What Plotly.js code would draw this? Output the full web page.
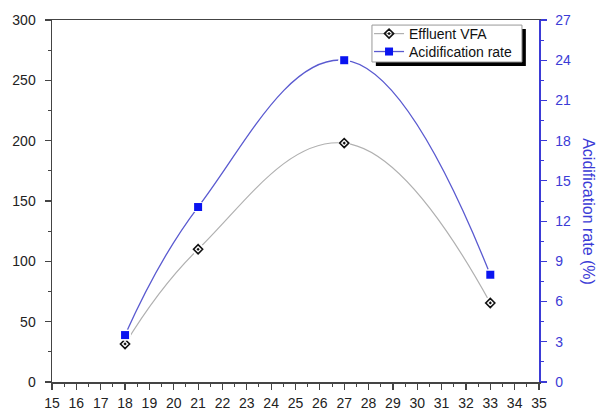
<!DOCTYPE html>
<html><head><meta charset="utf-8">
<script src="https://cdn.plot.ly/plotly-3.0.1.min.js"></script>
<style>html,body{margin:0;padding:0;background:#fff}#chart{width:602px;height:410px}</style>
</head><body><div id="chart"></div>
<script>
const temperature = [18, 21, 27, 33];
const effluentVFA = [31.5, 110, 198, 65.5];
const acidificationRate = [3.5, 13.05, 24.0, 8.0];
const seriesNames = ["Effluent VFA", "Acidification rate"];
const rightAxisTitle = "Acidification rate (%)";

const fam = "Liberation Sans, Arial, sans-serif";
const blue = "#3b3bd6";
const vfaLine = {shape: "spline", smoothing: 1.2, color: "#b0b0b0", width: 1.2};
const accLine = {shape: "spline", smoothing: 1.2, color: "#5a5ad0", width: 1.3};
const vfaMarker = {symbol: "diamond-open-dot", size: 7, color: "#111", line: {width: 1.6, color: "#111"}};
const accMarker = {symbol: "square", size: 8, color: "#0a14f0", line: {width: 0}};
const mask = {symbol: "circle", size: 12, color: "#fff", line: {width: 0}};

const traces = [
  {x: temperature, y: effluentVFA, name: seriesNames[0], type: "scatter", mode: "lines+markers",
   line: vfaLine, marker: vfaMarker, yaxis: "y", legend: "legend"},
  {x: temperature, y: acidificationRate, name: seriesNames[1], type: "scatter", mode: "lines+markers",
   line: accLine, marker: accMarker, yaxis: "y2", legend: "legend2"},
  {x: temperature, y: effluentVFA, type: "scatter", mode: "markers", marker: mask, showlegend: false, yaxis: "y", hoverinfo: "skip"},
  {x: temperature, y: acidificationRate, type: "scatter", mode: "markers", marker: mask, showlegend: false, yaxis: "y2", hoverinfo: "skip"},
  {x: temperature, y: effluentVFA, type: "scatter", mode: "markers", marker: vfaMarker, showlegend: false, yaxis: "y"},
  {x: temperature, y: acidificationRate, type: "scatter", mode: "markers", marker: accMarker, showlegend: false, yaxis: "y2"}
];
const tf = {family: fam, size: 14, color: "#222"};
const legendBase = {xanchor: "left", yanchor: "top", bgcolor: "rgba(0,0,0,0)", borderwidth: 0,
                    font: {family: fam, size: 14, color: "#111"}, itemwidth: 30};
const layout = {
  width: 602, height: 410,
  margin: {l: 52, r: 63, t: 20, b: 28},
  paper_bgcolor: "#fff", plot_bgcolor: "#fff",
  font: {family: fam, size: 14, color: "#222"},
  showlegend: true,
  legend: Object.assign({}, legendBase, {x: 0.651, y: 1.0055}),
  legend2: Object.assign({}, legendBase, {x: 0.651, y: 0.956}),
  xaxis: {range: [15, 35], dtick: 1, tick0: 15, showgrid: false, zeroline: false,
          showline: true, linecolor: "#444", linewidth: 1.5, mirror: true,
          ticks: "outside", ticklen: 6, tickwidth: 1.2, tickcolor: "#444", ticklabelstandoff: 2,
          minor: {dtick: 0.5, ticks: "outside", ticklen: 3, tickcolor: "#444", tickwidth: 1},
          tickfont: tf},
  yaxis: {range: [0, 300], dtick: 50, showgrid: false, zeroline: false,
          showline: true, linecolor: "#444", linewidth: 1.5,
          ticks: "outside", ticklen: 6, tickwidth: 1.2, tickcolor: "#444", ticklabelstandoff: 6,
          minor: {dtick: 25, ticks: "outside", ticklen: 3, tickcolor: "#444", tickwidth: 1},
          tickfont: tf},
  yaxis2: {range: [0, 27], dtick: 3, overlaying: "y", side: "right", showgrid: false, zeroline: false,
           showline: true, linecolor: blue, linewidth: 1.5,
           ticks: "outside", ticklen: 6, tickwidth: 1.2, tickcolor: blue, ticklabelstandoff: 6,
           minor: {dtick: 1.5, ticks: "outside", ticklen: 3, tickcolor: blue, tickwidth: 1},
           tickfont: {family: fam, size: 14, color: blue}},
  annotations: [{text: rightAxisTitle, xref: "paper", yref: "paper", x: 1.1, xanchor: "center", y: 0.47,
                 textangle: 90, showarrow: false, font: {family: fam, size: 16, color: blue}}],
  shapes: [
    {type: "rect", xref: "paper", yref: "paper", x0: 0.665, x1: 0.973, y0: 0.873, y1: 0.975,
     fillcolor: "#000", line: {width: 0}, layer: "above"},
    {type: "rect", xref: "paper", yref: "paper", x0: 0.657, x1: 0.965, y0: 0.884, y1: 0.986,
     fillcolor: "#fff", line: {width: 1, color: "#999"}, layer: "above"}
  ]
};
Plotly.newPlot("chart", traces, layout, {displayModeBar: false, staticPlot: true});
</script></body></html>
